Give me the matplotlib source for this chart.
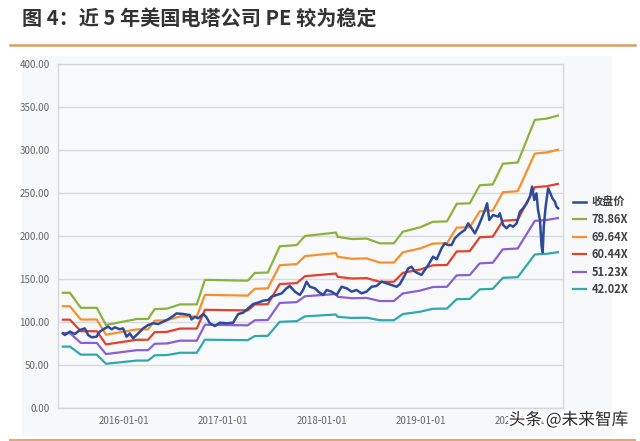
import numpy as np
import pandas as pd
import matplotlib
matplotlib.use("Agg")
import matplotlib.pyplot as plt
import matplotlib.dates as mdates
import matplotlib.patheffects as pe
from matplotlib.patches import Rectangle
from matplotlib.lines import Line2D

plt.rcParams['font.family'] = ['Noto Sans CJK SC', 'DejaVu Sans']

# PE multiples used for the bands
multiples = [78.86, 69.64, 60.44, 51.23, 42.02]
band_labels = ["78.86X", "69.64X", "60.44X", "51.23X", "42.02X"]
band_colors = ["#8db23c", "#f7902b", "#e2412b", "#8b5fd4", "#2fa8ae"]

# 78.86X band (step changes when EPS updates)
band_dates = ["2015-05-21", "2015-06-16", "2015-07-26", "2015-09-23", "2015-10-27",
              "2016-02-18", "2016-03-30", "2016-04-24", "2016-06-08", "2016-07-26",
              "2016-09-26", "2016-10-26", "2017-04-02", "2017-04-28", "2017-06-15",
              "2017-07-29", "2017-09-30", "2017-10-30", "2018-02-21", "2018-02-28",
              "2018-04-21", "2018-06-15", "2018-08-02", "2018-09-23", "2018-10-26",
              "2018-12-28", "2019-02-14", "2019-04-07", "2019-05-13", "2019-06-30",
              "2019-08-06", "2019-09-23", "2019-10-30", "2019-12-24", "2020-02-25",
              "2020-04-09", "2020-05-20"]
top_band = [134, 134, 116.5, 116.5, 96.5,
            103.5, 103.5, 115, 115.5, 120.5,
            120.5, 149, 148, 157, 157.5,
            188, 189.5, 200, 204, 199,
            196.5, 197, 191.5, 191.5, 205,
            210, 216.5, 217, 237.5, 238,
            259, 260, 284, 285.5, 335,
            336.5, 340]

# closing price
close_dates = ["2015-05-21", "2015-05-28", "2015-06-16", "2015-07-04", "2015-07-23",
               "2015-08-10", "2015-08-22", "2015-09-04", "2015-09-22", "2015-10-04",
               "2015-10-23", "2015-11-04", "2015-11-17", "2015-11-29", "2015-12-17",
               "2015-12-29", "2016-01-11", "2016-01-23", "2016-02-04", "2016-02-23",
               "2016-03-12", "2016-03-31", "2016-04-18", "2016-05-07", "2016-05-25",
               "2016-06-12", "2016-07-01", "2016-07-13", "2016-08-07", "2016-08-31",
               "2016-09-07", "2016-09-19", "2016-10-01", "2016-10-20", "2016-11-01",
               "2016-11-13", "2016-12-02", "2016-12-20", "2017-01-14", "2017-02-07",
               "2017-02-26", "2017-03-16", "2017-04-04", "2017-04-22", "2017-05-10",
               "2017-05-29", "2017-06-16", "2017-06-29", "2017-07-17", "2017-08-05",
               "2017-08-23", "2017-09-04", "2017-09-23", "2017-10-11", "2017-10-23",
               "2017-11-05", "2017-11-17", "2017-12-06", "2017-12-18", "2018-01-05",
               "2018-01-18", "2018-02-05", "2018-02-24", "2018-03-14", "2018-04-02",
               "2018-04-20", "2018-05-08", "2018-05-27", "2018-06-14", "2018-07-03",
               "2018-07-21", "2018-08-09", "2018-08-27", "2018-09-15", "2018-10-03",
               "2018-10-15", "2018-11-03", "2018-11-15", "2018-11-27", "2018-12-10",
               "2018-12-22", "2019-01-03", "2019-01-15", "2019-01-28", "2019-02-15",
               "2019-02-28", "2019-03-18", "2019-03-30", "2019-04-11", "2019-04-24",
               "2019-05-06", "2019-05-25", "2019-06-12", "2019-06-24", "2019-07-07",
               "2019-07-19", "2019-07-31", "2019-08-13", "2019-08-25", "2019-09-02",
               "2019-09-10", "2019-09-24", "2019-10-13", "2019-10-19", "2019-10-31",
               "2019-11-13", "2019-11-25", "2019-12-07", "2019-12-20", "2020-01-01",
               "2020-01-13", "2020-01-26", "2020-02-07", "2020-02-15", "2020-02-23",
               "2020-03-02", "2020-03-08", "2020-03-15", "2020-03-21", "2020-03-25",
               "2020-03-29", "2020-04-05", "2020-04-14", "2020-04-20", "2020-04-30",
               "2020-05-09", "2020-05-15", "2020-05-21"]
close_px = [86.8, 84.9, 88.8, 86.0, 90.7,
            92.6, 84.9, 82.2, 82.9, 88.8,
            92.6, 94.6, 91.5, 93.8, 91.5,
            92.6, 82.9, 86.8, 81.0, 86.8,
            92.6, 96.5, 98.5, 97.7, 100.3,
            103.1, 107.0, 110.0, 109.3, 108.0,
            103.0, 106.0, 104.3, 109.3, 105.4,
            98.5, 95.3, 99.2, 98.5, 99.2,
            109.3, 110.8, 115.9, 120.9, 122.5,
            124.8, 125.6, 129.5, 131.4, 133.3,
            139.2, 141.9, 135.3, 131.4, 137.2,
            146.9, 141.0, 139.2, 135.3, 131.4,
            137.2, 135.3, 131.4, 141.0, 139.2,
            135.3, 137.2, 133.3, 135.3, 141.0,
            141.9, 146.9, 145.0, 143.0, 141.0,
            144.0, 154.7, 162.4, 164.3, 158.5,
            156.6, 154.7, 160.5, 166.3, 176.0,
            172.9, 185.7, 191.5, 189.5, 189.5,
            197.3, 203.1, 207.0, 214.7, 209.0,
            203.1, 210.8, 220.5, 230.2, 238.0,
            218.6, 224.4, 222.5, 226.4, 212.8,
            209.0, 212.8, 210.8, 214.7, 228.3,
            232.2, 238.0, 245.7, 257.4, 241.9,
            249.6, 230.2, 218.6, 187.6, 181.0,
            210.8, 234.1, 255.4, 251.5, 243.8,
            239.9, 234.1, 232.2]

bd = pd.to_datetime(band_dates)
eps = np.array(top_band) / multiples[0]
cd = pd.to_datetime(close_dates)

fig = plt.figure(figsize=(6.4, 4.41), dpi=100)

# title and decorations
fig.text(22 / 640, 1 - 18 / 441, "图 4：近 5 年美国电塔公司 PE 较为稳定",
         fontsize=14.5, fontweight='bold', color='#333333', va='center', ha='left')
fig.add_artist(Line2D([10 / 640, 635 / 640], [1 - 45 / 441] * 2,
                      color='#d99d62', lw=1.8, transform=fig.transFigure))
fig.add_artist(Line2D([10 / 640, 635 / 640], [1 - 439.5 / 441] * 2,
                      color='#e8a66a', lw=1.5, transform=fig.transFigure))
fig.add_artist(Rectangle((22 / 640, 1 - 436 / 441), 590 / 640, 380 / 441,
                         transform=fig.transFigure, facecolor='#f7f8fa',
                         edgecolor='none', zorder=-5))

ax = fig.add_axes([58 / 640, 1 - 408 / 441, 505 / 640, 344 / 441])
ax.set_facecolor('#f8f9fb')

for m, lab, col in zip(multiples, band_labels, band_colors):
    ax.plot(bd, eps * m, color=col, lw=1.6, label=lab, zorder=3)
ax.plot(cd, close_px, color='#2e4a9c', lw=1.8, label='收盘价', zorder=4)

ax.set_ylim(0, 400)
ax.set_yticks(np.arange(0, 401, 50))
ax.yaxis.set_major_formatter(plt.FuncFormatter(lambda v, p: f"{v:.2f}"))
ax.set_xlim(pd.Timestamp("2015-05-03"), pd.Timestamp("2020-06-08"))
ax.set_xticks(pd.to_datetime(["2016-01-01", "2017-01-01", "2018-01-01",
                              "2019-01-01", "2020-01-01"]))
ax.xaxis.set_major_formatter(mdates.DateFormatter("%Y-%m-%d"))
ax.grid(axis='y', color='#d6d9de', lw=1.0)
ax.set_axisbelow(True)
for s in ax.spines.values():
    s.set_color('#d3d6db')
    s.set_linewidth(1.0)
ax.tick_params(axis='both', length=0, labelsize=7, colors='#666666')
ax.tick_params(axis='y', pad=6)
ax.tick_params(axis='x', pad=6)

handles, labels = ax.get_legend_handles_labels()
order = [5, 0, 1, 2, 3, 4]
leg = fig.legend([handles[i] for i in order], [labels[i] for i in order],
                 loc='center left', bbox_to_anchor=(573 / 640, 1 - 246 / 441),
                 frameon=False, fontsize=8, handlelength=1.2, handletextpad=0.5,
                 labelspacing=0.4, borderpad=0, borderaxespad=0)
for t in leg.get_texts():
    t.set_color('#404040')
    t.set_fontweight('bold')

# watermark
fig.text(628 / 640, 1 - 420 / 441, "头条 @未来智库", fontsize=12, color='#2a2a2a',
         ha='right', va='center',
         path_effects=[pe.withStroke(linewidth=3, foreground='white')])

fig.savefig("out.png", dpi=100)
